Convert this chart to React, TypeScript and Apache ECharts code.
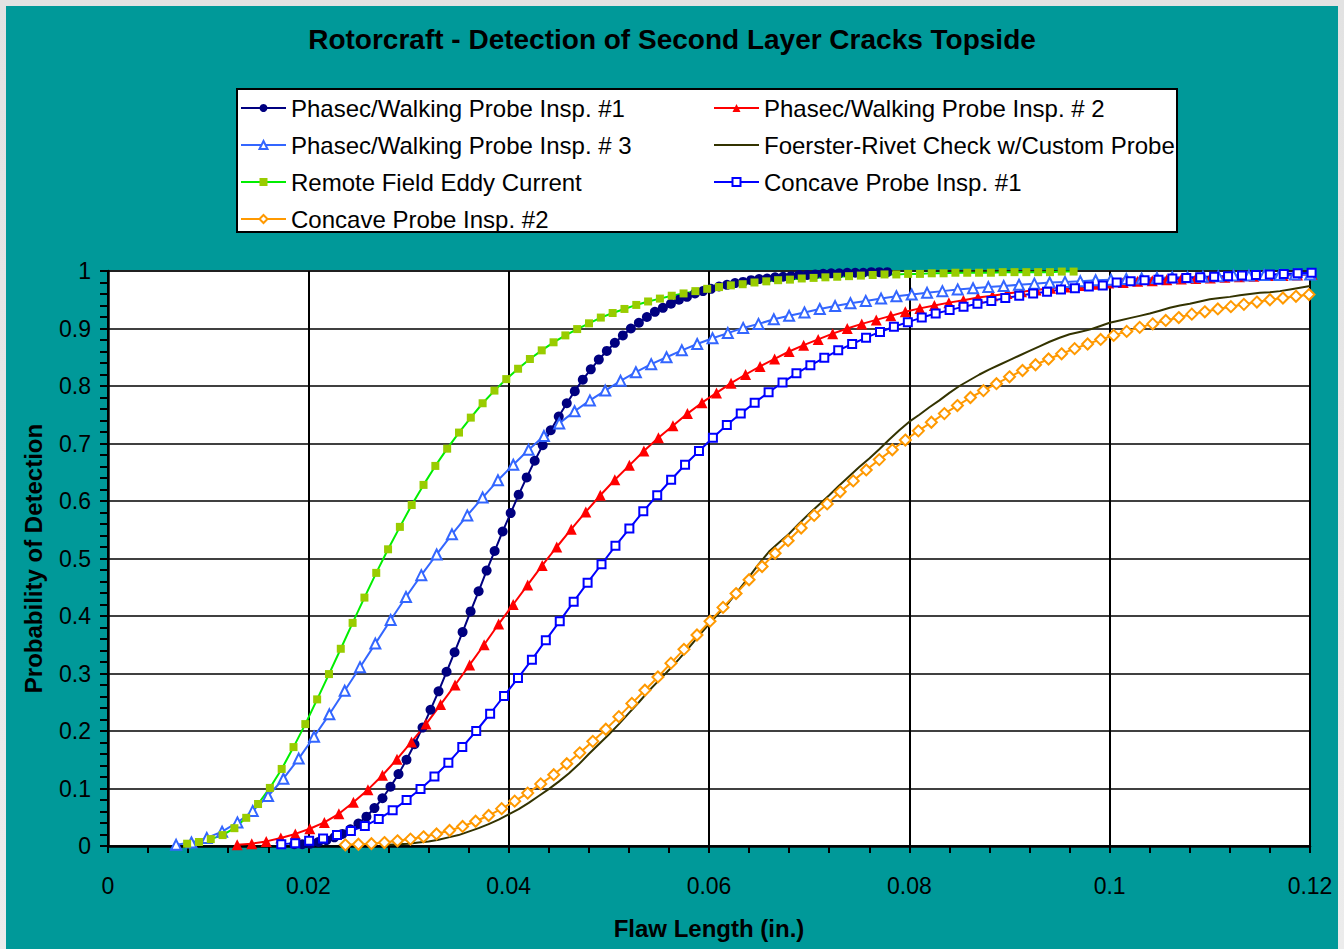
import React, { useEffect, useRef } from "react";
import * as echarts from "echarts";

// ---- Data (flaw length in inches, probability of detection) ----
const seriesNames = [
  "Phasec/Walking Probe Insp. #1",
  "Phasec/Walking Probe Insp. # 2",
  "Phasec/Walking Probe Insp. # 3",
  "Foerster-Rivet Check w/Custom Probe",
  "Remote Field Eddy Current",
  "Concave Probe Insp. #1",
  "Concave Probe Insp. #2",
];

// sampling grids (start, step) of each series
const phasec1Grid = [0.0186, 0.0008];
const phasec2Grid = [0.0129, 0.00145];
const phasec3Grid = [0.0068, 0.00153];
const foersterGrid = [0.028, 0.001];
const remoteGrid = [0.0079, 0.00118];
const concave1Grid = [0.0173, 0.00139];
const concave2Grid = [0.0237, 0.0013];

const phasec1Pod = [
  0.003, 0.003, 0.004, 0.007, 0.010, 0.015, 0.021, 0.029, 0.039, 0.051,
  0.066, 0.083, 0.103, 0.125, 0.150, 0.177, 0.206, 0.237, 0.269, 0.303,
  0.337, 0.372, 0.408, 0.443, 0.479, 0.513, 0.547, 0.579, 0.611, 0.641,
  0.670, 0.697, 0.723, 0.747, 0.770, 0.791, 0.811, 0.829, 0.846, 0.861,
  0.875, 0.888, 0.900, 0.910, 0.920, 0.929, 0.936, 0.943, 0.950, 0.955,
  0.961, 0.965, 0.969, 0.973, 0.976, 0.979, 0.981, 0.984, 0.986, 0.987,
  0.989, 0.990, 0.991, 0.993, 0.993, 0.994, 0.995, 0.996, 0.996, 0.997,
  0.997, 0.997, 0.998, 0.998, 0.998,
];

const phasec2Pod = [
  0.002, 0.004, 0.008, 0.014, 0.021, 0.030, 0.041, 0.056, 0.076, 0.098,
  0.123, 0.151, 0.181, 0.212, 0.246, 0.280, 0.315, 0.350, 0.386, 0.420,
  0.454, 0.488, 0.520, 0.551, 0.581, 0.610, 0.637, 0.662, 0.687, 0.710,
  0.731, 0.752, 0.771, 0.788, 0.805, 0.820, 0.834, 0.847, 0.860, 0.871,
  0.881, 0.891, 0.900, 0.908, 0.915, 0.922, 0.929, 0.935, 0.940, 0.945,
  0.949, 0.954, 0.957, 0.961, 0.964, 0.967, 0.970, 0.972, 0.975, 0.977,
  0.979, 0.980, 0.982, 0.983, 0.985, 0.986, 0.987, 0.988, 0.989, 0.990,
  0.991, 0.992, 0.992, 0.993, 0.994,
];

const phasec3Pod = [
  0.002, 0.006, 0.014, 0.025, 0.041, 0.061, 0.087, 0.117, 0.152, 0.190,
  0.229, 0.270, 0.311, 0.352, 0.393, 0.433, 0.471, 0.507, 0.542, 0.575,
  0.606, 0.636, 0.663, 0.689, 0.713, 0.735, 0.756, 0.775, 0.792, 0.809,
  0.824, 0.838, 0.850, 0.862, 0.873, 0.883, 0.892, 0.901, 0.908, 0.916,
  0.922, 0.928, 0.934, 0.939, 0.944, 0.948, 0.952, 0.956, 0.959, 0.962,
  0.965, 0.968, 0.970, 0.972, 0.974, 0.976, 0.978, 0.980, 0.981, 0.982,
  0.984, 0.985, 0.986, 0.987, 0.988, 0.989, 0.989, 0.990, 0.991, 0.992,
  0.992, 0.993, 0.993, 0.994, 0.994,
];

const foersterPod = [
  0.002, 0.003, 0.004, 0.006, 0.008, 0.011, 0.015, 0.019, 0.025, 0.031,
  0.038, 0.046, 0.055, 0.064, 0.075, 0.087, 0.099, 0.112, 0.126, 0.142,
  0.160, 0.177, 0.194, 0.212, 0.231, 0.250, 0.270, 0.288, 0.306, 0.325,
  0.345, 0.366, 0.386, 0.405, 0.424, 0.446, 0.468, 0.491, 0.512, 0.528,
  0.543, 0.561, 0.578, 0.594, 0.610, 0.627, 0.643, 0.659, 0.674, 0.690,
  0.707, 0.723, 0.738, 0.750, 0.763, 0.775, 0.788, 0.800, 0.810, 0.820,
  0.829, 0.837, 0.845, 0.853, 0.861, 0.869, 0.877, 0.884, 0.890, 0.894,
  0.898, 0.904, 0.910, 0.914, 0.918, 0.922, 0.926, 0.931, 0.936, 0.940,
  0.943, 0.947, 0.951, 0.953, 0.955, 0.958, 0.960, 0.962, 0.963, 0.965,
  0.968, 0.971, 0.974,
];

const remotePod = [
  0.004, 0.007, 0.012, 0.019, 0.031, 0.049, 0.073, 0.101, 0.134, 0.172,
  0.212, 0.255, 0.299, 0.343, 0.388, 0.432, 0.475, 0.516, 0.555, 0.593,
  0.628, 0.661, 0.691, 0.719, 0.745, 0.770, 0.792, 0.812, 0.830, 0.847,
  0.862, 0.876, 0.888, 0.899, 0.909, 0.919, 0.927, 0.934, 0.941, 0.947,
  0.952, 0.957, 0.961, 0.965, 0.969, 0.972, 0.975, 0.977, 0.980, 0.982,
  0.984, 0.985, 0.987, 0.988, 0.989, 0.990, 0.991, 0.992, 0.993, 0.994,
  0.994, 0.995, 0.995, 0.996, 0.996, 0.997, 0.997, 0.997, 0.997, 0.998,
  0.998, 0.998, 0.998, 0.998, 0.999, 0.999,
];

const concave1Pod = [
  0.003, 0.005, 0.009, 0.013, 0.019, 0.026, 0.035, 0.047, 0.062, 0.080,
  0.099, 0.121, 0.145, 0.172, 0.200, 0.230, 0.261, 0.292, 0.324, 0.358,
  0.391, 0.425, 0.458, 0.490, 0.522, 0.552, 0.582, 0.610, 0.637, 0.663,
  0.687, 0.710, 0.732, 0.752, 0.771, 0.789, 0.806, 0.822, 0.836, 0.849,
  0.862, 0.873, 0.884, 0.894, 0.903, 0.911, 0.919, 0.926, 0.932, 0.938,
  0.943, 0.948, 0.953, 0.957, 0.961, 0.964, 0.968, 0.970, 0.973, 0.975,
  0.980, 0.982, 0.984, 0.985, 0.987, 0.988, 0.989, 0.990, 0.991, 0.992,
  0.993, 0.994, 0.995, 0.996, 0.997,
];

const concave2Pod = [
  0.002, 0.003, 0.004, 0.006, 0.009, 0.012, 0.016, 0.021, 0.027, 0.034,
  0.043, 0.053, 0.065, 0.078, 0.092, 0.108, 0.124, 0.143, 0.162, 0.182,
  0.203, 0.225, 0.248, 0.271, 0.294, 0.318, 0.342, 0.367, 0.391, 0.415,
  0.439, 0.463, 0.486, 0.509, 0.531, 0.553, 0.575, 0.595, 0.616, 0.635,
  0.654, 0.672, 0.689, 0.706, 0.722, 0.737, 0.752, 0.766, 0.780, 0.792,
  0.804, 0.816, 0.827, 0.837, 0.847, 0.856, 0.865, 0.873, 0.881, 0.888,
  0.895, 0.902, 0.908, 0.914, 0.919, 0.925, 0.929, 0.934, 0.938, 0.942,
  0.946, 0.950, 0.953, 0.956, 0.959,
];

const xTicks = { min: 0, max: 0.12, interval: 0.02 };
const yTicks = { min: 0, max: 1, interval: 0.1 };

function toPairs(grid: number[], ys: number[]) {
  const [start, step] = grid;
  return ys.map((y, i) => [Number((start + i * step).toFixed(5)), y]);
}

const FONT = "'Liberation Sans', Arial, Helvetica, sans-serif";

export default function App() {
  const ref = useRef<HTMLDivElement>(null);

  useEffect(() => {
    document.body.style.margin = "0";
    if (!ref.current) return;
    const chart = echarts.init(ref.current, undefined, { renderer: "svg" });

    const base = {
      type: "line",
      clip: false,
      silent: true,
      emphasis: { disabled: true },
      z: 3,
    };

    const series: any[] = [
      {
        ...base,
        name: seriesNames[0],
        data: toPairs(phasec1Grid, phasec1Pod),
        symbol: "circle",
        symbolSize: 10,
        lineStyle: { color: "#000080", width: 2 },
        itemStyle: { color: "#000080", borderWidth: 0 },
      },
      {
        ...base,
        name: seriesNames[1],
        data: toPairs(phasec2Grid, phasec2Pod),
        symbol: "triangle",
        symbolSize: 11,
        lineStyle: { color: "#ff0000", width: 2 },
        itemStyle: { color: "#ff0000", borderWidth: 0 },
      },
      {
        ...base,
        name: seriesNames[2],
        data: toPairs(phasec3Grid, phasec3Pod),
        symbol: "emptyTriangle",
        symbolSize: 10,
        lineStyle: { color: "#3366ff", width: 2 },
        itemStyle: { color: "#3366ff", borderColor: "#3366ff", borderWidth: 2 },
      },
      {
        ...base,
        name: seriesNames[3],
        data: toPairs(foersterGrid, foersterPod),
        symbol: "none",
        lineStyle: { color: "#333300", width: 2 },
        itemStyle: { color: "#333300" },
      },
      {
        ...base,
        name: seriesNames[4],
        data: toPairs(remoteGrid, remotePod),
        symbol: "rect",
        symbolSize: 8,
        lineStyle: { color: "#00ee00", width: 2 },
        itemStyle: { color: "#99cc00", borderWidth: 0 },
      },
      {
        ...base,
        name: seriesNames[5],
        data: toPairs(concave1Grid, concave1Pod),
        symbol: "emptyRect",
        symbolSize: 8,
        lineStyle: { color: "#0000ff", width: 2 },
        itemStyle: { color: "#0000ff", borderColor: "#0000ff", borderWidth: 2 },
      },
      {
        ...base,
        name: seriesNames[6],
        data: toPairs(concave2Grid, concave2Pod),
        symbol: "emptyDiamond",
        symbolSize: 11,
        lineStyle: { color: "#ff9900", width: 2 },
        itemStyle: { color: "#ff9900", borderColor: "#ff9900", borderWidth: 2 },
      },
    ];

    const legendCommon = {
      orient: "vertical",
      top: 90,
      padding: 0,
      itemWidth: 45,
      itemHeight: 10,
      itemGap: 13,
      selectedMode: false,
      z: 10,
      textStyle: { fontFamily: FONT, fontSize: 24, lineHeight: 24, color: "#000" },
    };

    const option: any = {
      animation: false,
      backgroundColor: "#009999",
      textStyle: { fontFamily: FONT },
      title: {
        text: "Rotorcraft - Detection of Second Layer Cracks Topside",
        left: "center",
        top: 19,
        padding: 0,
        textStyle: { fontFamily: FONT, fontSize: 28, fontWeight: "bold", color: "#000" },
      },
      graphic: [
        {
          type: "rect",
          z: 1,
          silent: true,
          shape: { x: 231, y: 83, width: 940, height: 143 },
          style: { fill: "#ffffff", stroke: "#000000", lineWidth: 2 },
        },
      ],
      legend: [
        {
          ...legendCommon,
          left: 234,
          data: [seriesNames[0], seriesNames[2], seriesNames[4], seriesNames[6]],
        },
        {
          ...legendCommon,
          left: 707,
          data: [
            seriesNames[1],
            { name: seriesNames[3], itemStyle: { opacity: 0 } },
            seriesNames[5],
          ],
        },
      ],
      grid: {
        left: 102,
        top: 265,
        width: 1202,
        height: 575,
        show: true,
        backgroundColor: "#ffffff",
        borderColor: "#808080",
        borderWidth: 2,
      },
      xAxis: {
        type: "value",
        ...xTicks,
        name: "Flaw Length (in.)",
        nameLocation: "middle",
        nameGap: 70,
        nameTextStyle: { fontFamily: FONT, fontSize: 24, fontWeight: "bold", color: "#000" },
        axisLine: { show: true, onZero: false, lineStyle: { color: "#000", width: 2.5 } },
        axisTick: { show: true, inside: false, length: 7, lineStyle: { color: "#000", width: 2 } },
        minorTick: { show: true, splitNumber: 5, length: 7, lineStyle: { color: "#000", width: 2 } },
        splitLine: { show: true, lineStyle: { color: "#000", width: 2 } },
        axisLabel: {
          margin: 28,
          fontFamily: FONT,
          fontSize: 23,
          color: "#000",
          formatter: (v: number) => String(Math.round(v * 100) / 100),
        },
      },
      yAxis: {
        type: "value",
        ...yTicks,
        name: "Probability of Detection",
        nameLocation: "middle",
        nameGap: 63,
        nameTextStyle: { fontFamily: FONT, fontSize: 24, fontWeight: "bold", color: "#000" },
        axisLine: { show: true, onZero: false, lineStyle: { color: "#000", width: 2.5 } },
        axisTick: { show: true, inside: false, length: 8, lineStyle: { color: "#000", width: 2 } },
        minorTick: { show: true, splitNumber: 5, length: 8, lineStyle: { color: "#000", width: 2 } },
        splitLine: { show: true, lineStyle: { color: "#000", width: 1.5 } },
        axisLabel: {
          margin: 17,
          fontFamily: FONT,
          fontSize: 23,
          color: "#000",
          formatter: (v: number) => String(Math.round(v * 10) / 10),
        },
      },
      series,
    };

    chart.setOption(option);
    return () => chart.dispose();
  }, []);

  return (
    <div
      style={{
        position: "relative",
        width: 1344,
        height: 949,
        background: "linear-gradient(180deg, #e2e2e2 0%, #ececec 100%)",
        overflow: "hidden",
      }}
    >
      <div
        ref={ref}
        style={{ position: "absolute", left: 6, top: 6, width: 1332, height: 943 }}
      />
    </div>
  );
}
